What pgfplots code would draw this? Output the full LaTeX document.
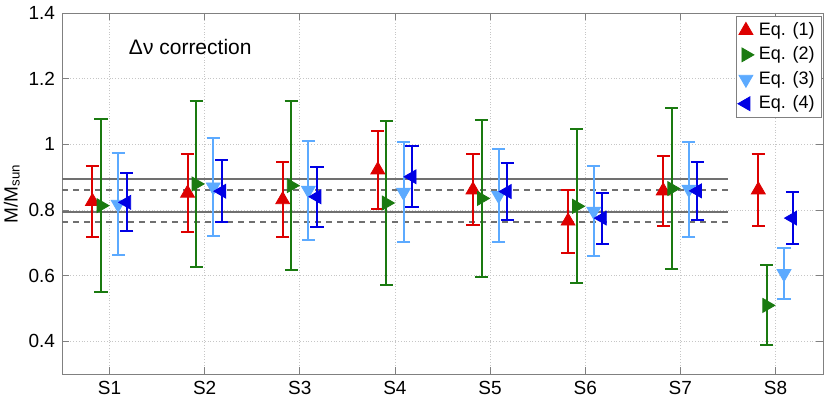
\documentclass[border=0pt]{standalone}
\usepackage{fontspec}
\setmainfont{Liberation Sans}
\usepackage{pgfplots}
\pgfplotsset{compat=1.18}
\usetikzlibrary{calc}

\definecolor{cEqA}{RGB}{221,0,0}
\definecolor{cEqB}{RGB}{26,122,16}
\definecolor{cEqC}{RGB}{92,170,255}
\definecolor{cEqD}{RGB}{0,0,228}
\definecolor{cRef}{RGB}{112,112,112}
\definecolor{cAx}{RGB}{128,128,128}

\begin{document}
\begin{tikzpicture}
\begin{axis}[
    scale only axis, width=380.5pt, height=180.5pt,
    xmin=0.5, xmax=8.5, ymin=0.3, ymax=1.4,
    xtick={1,...,8}, xticklabels={S1,S2,S3,S4,S5,S6,S7,S8},
    ytick={0.4,0.6,...,1.4},
    yticklabel style={/pgf/number format/fixed},
    /pgf/number format/assume math mode=true,
    tick label style={font=\fontsize{9.5}{10}\selectfont},
    tick align=inside, major tick length=3.5pt,
    axis line style={cAx}, every tick/.style={cAx},
    grid=major, grid style={densely dotted, gray!45, line width=0.4pt},
    ylabel={M/M\textsubscript{sun}},
    ylabel style={font=\fontsize{9.5}{10}\selectfont, at={(axis description cs:-0.066,0.5)}, anchor=center},
    legend style={at={(rel axis cs:1,1)}, anchor=north east, xshift=-0.5pt, yshift=-1.5pt,
        draw=cAx, font=\fontsize{9}{11}\selectfont, inner sep=1pt, row sep=0.2pt,
        cells={anchor=west}, nodes={inner xsep=2.5pt}},
    error bars/y dir=both, error bars/y explicit,
]
% reference bands
\addplot[cRef, line width=1pt, forget plot] coordinates {(0.5,0.893) (7.5,0.893)};
\addplot[cRef, line width=1pt, forget plot] coordinates {(0.5,0.793) (7.5,0.793)};
\addplot[cRef, line width=1pt, dash pattern=on 3pt off 2.5pt, forget plot] coordinates {(0.5,0.862) (7.5,0.862)};
\addplot[cRef, line width=1pt, dash pattern=on 3pt off 2.5pt, forget plot] coordinates {(0.5,0.762) (7.5,0.762)};

\addplot[only marks, mark=triangle*, mark size=4pt, color=cEqA, fill=cEqA,
    error bars/error bar style={line width=1pt, cEqA},
    error bars/error mark options={rotate=90, line width=1pt, mark size=3.3pt, cEqA}]
coordinates {
(0.82,0.826) +- (0,0.109)
(1.82,0.851) +- (0,0.119)
(2.82,0.831) +- (0,0.115)
(3.82,0.922) +- (0,0.119)
(4.82,0.861) +- (0,0.108)
(5.82,0.766) +- (0,0.096)
(6.82,0.858) +- (0,0.107)
(7.82,0.861) +- (0,0.110)
};
\addlegendentry{Eq. (1)}

\addplot[only marks, mark=triangle*, mark size=4pt, mark options={rotate=-90}, color=cEqB, fill=cEqB,
    error bars/error bar style={line width=1pt, cEqB},
    error bars/error mark options={rotate=90, line width=1pt, mark size=3.3pt, cEqB}]
coordinates {
(0.91,0.813) +- (0,0.264)
(1.91,0.879) +- (0,0.253)
(2.91,0.874) +- (0,0.258)
(3.91,0.821) +- (0,0.251)
(4.91,0.835) +- (0,0.238)
(5.91,0.811) +- (0,0.235)
(6.91,0.865) +- (0,0.245)
(7.91,0.509) +- (0,0.122)
};
\addlegendentry{Eq. (2)}

\addplot[only marks, mark=triangle*, mark size=4pt, mark options={rotate=180}, color=cEqC, fill=cEqC,
    error bars/error bar style={line width=1pt, cEqC},
    error bars/error mark options={rotate=90, line width=1pt, mark size=3.3pt, cEqC}]
coordinates {
(1.09,0.817) +- (0,0.155)
(2.09,0.870) +- (0,0.148)
(3.09,0.860) +- (0,0.151)
(4.09,0.854) +- (0,0.152)
(5.09,0.844) +- (0,0.141)
(6.09,0.796) +- (0,0.137)
(7.09,0.863) +- (0,0.145)
(8.09,0.606) +- (0,0.079)
};
\addlegendentry{Eq. (3)}

\addplot[only marks, mark=triangle*, mark size=4pt, mark options={rotate=90}, color=cEqD, fill=cEqD,
    error bars/error bar style={line width=1pt, cEqD},
    error bars/error mark options={rotate=90, line width=1pt, mark size=3.3pt, cEqD}]
coordinates {
(1.18,0.823) +- (0,0.088)
(2.18,0.857) +- (0,0.094)
(3.18,0.840) +- (0,0.092)
(4.18,0.901) +- (0,0.093)
(5.18,0.856) +- (0,0.088)
(6.18,0.775) +- (0,0.078)
(7.18,0.858) +- (0,0.088)
(8.18,0.775) +- (0,0.079)
};
\addlegendentry{Eq. (4)}

\node[anchor=west, font=\fontsize{10.5}{12}\selectfont, inner sep=0pt] at (axis cs:1.2,1.297) {Δν correction};
\end{axis}
\pgfresetboundingbox
\useasboundingbox ($(current axis.south west)+(-31pt,-12.5pt)$) rectangle ($(current axis.north east)+(3.5pt,6.5pt)$);
\end{tikzpicture}
\end{document}
